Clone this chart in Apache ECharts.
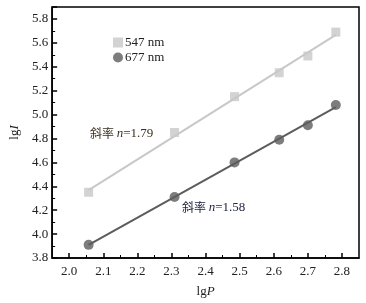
<!DOCTYPE html>
<html>
<head>
<meta charset="utf-8">
<script src="https://cdn.jsdelivr.net/npm/echarts@6/dist/echarts.min.js"></script>
<style>
  html, body { margin: 0; padding: 0; background: #fff; }
  #chart { width: 366px; height: 303px; }
</style>
</head>
<body>
<div id="chart"></div>
<script>
// data
var lgP = [2.057, 2.309, 2.485, 2.616, 2.700, 2.782];
var lgI547 = [4.35, 4.85, 5.15, 5.35, 5.49, 5.69];
var lgI677 = [3.91, 4.31, 4.60, 4.79, 4.91, 5.08];
var seriesNames = ['547 nm', '677 nm'];
var slopeLabels = ['斜率 ', '1.79', '1.58'];
var xMajor = [2.0, 2.1, 2.2, 2.3, 2.4, 2.5, 2.6, 2.7, 2.8];
var xMinor = [2.05, 2.15, 2.25, 2.35, 2.45, 2.55, 2.65, 2.75];

// least squares fit, drawn from first to last x
function fit(xs, ys) {
    var n = xs.length, mx = 0, my = 0;
    for (var i = 0; i < n; i++) { mx += xs[i]; my += ys[i]; }
    mx /= n; my /= n;
    var sxy = 0, sxx = 0;
    for (var j = 0; j < n; j++) {
        sxy += (xs[j] - mx) * (ys[j] - my);
        sxx += (xs[j] - mx) * (xs[j] - mx);
    }
    var k = sxy / sxx, b = my - k * mx;
    return [[xs[0], k * xs[0] + b], [xs[n - 1], k * xs[n - 1] + b]];
}
function pairs(xs, ys) {
    return xs.map(function (x, i) { return [x, ys[i]]; });
}

var serif = 'Liberation Serif';
var txt = '#222';
var fs = 13;
var myChart = echarts.init(document.getElementById('chart'));

var option = {
    animation: false,
    grid: {
        left: 44, right: 7, top: 7, bottom: 39,
        show: true, borderColor: '#000', borderWidth: 1.5
    },
    legend: {
        data: seriesNames,
        orient: 'vertical',
        left: 108, top: 31,
        itemWidth: 10, itemHeight: 10, itemGap: 2,
        textStyle: { fontFamily: serif, fontSize: fs, color: txt, padding: [0, 0, 0, -3] }
    },
    xAxis: [
        {
            type: 'value', min: 1.95, max: 2.85,
            name: '{n|lg}{i|P}', nameLocation: 'middle', nameGap: 27,
            nameTextStyle: {
                rich: {
                    n: { fontFamily: serif, fontSize: fs, color: txt },
                    i: { fontFamily: serif, fontSize: fs, color: txt, fontStyle: 'italic' }
                }
            },
            axisLine: { show: true, onZero: false, lineStyle: { color: '#000', width: 1.5 } },
            axisTick: { show: true, inside: true, length: 5, customValues: xMajor, lineStyle: { color: '#000', width: 1.5 } },
            splitLine: { show: false },
            axisLabel: {
                fontFamily: serif, fontSize: fs, color: txt, margin: 7,
                customValues: xMajor,
                formatter: function (v) { return v.toFixed(1); }
            }
        },
        {
            type: 'value', min: 1.95, max: 2.85, position: 'bottom',
            axisLine: { show: false },
            axisTick: { show: true, inside: true, length: 3, customValues: xMinor, lineStyle: { color: '#000', width: 1 } },
            axisLabel: { show: false },
            splitLine: { show: false }
        }
    ],
    yAxis: {
        type: 'value', min: 3.8, max: 5.9, interval: 0.2,
        name: '{n|lg}{i|I}', nameLocation: 'middle', nameGap: 31,
        nameTextStyle: {
            rich: {
                n: { fontFamily: serif, fontSize: fs, color: txt },
                i: { fontFamily: serif, fontSize: fs, color: txt, fontStyle: 'italic' }
            }
        },
        axisLine: { show: true, onZero: false, lineStyle: { color: '#000', width: 1.5 } },
        axisTick: { show: true, inside: true, length: 5, lineStyle: { color: '#000', width: 1.5 } },
        minorTick: { show: true, splitNumber: 2, length: 3, lineStyle: { color: '#000', width: 1 } },
        splitLine: { show: false },
        axisLabel: {
            fontFamily: serif, fontSize: fs, color: txt, margin: 4,
            showMaxLabel: false,
            formatter: function (v) { return v.toFixed(1); }
        }
    },
    series: [
        {
            name: 'fit547', type: 'line', data: fit(lgP, lgI547),
            symbol: 'none', lineStyle: { color: '#c8c8c8', width: 2 }, z: 1
        },
        {
            name: 'fit677', type: 'line', data: fit(lgP, lgI677),
            symbol: 'none', lineStyle: { color: '#5c5c5c', width: 2 }, z: 1
        },
        {
            name: seriesNames[0], type: 'scatter', data: pairs(lgP, lgI547),
            symbol: 'rect', symbolSize: 9, itemStyle: { color: '#c8c8c8' }, z: 3
        },
        {
            name: seriesNames[1], type: 'scatter', data: pairs(lgP, lgI677),
            symbol: 'circle', symbolSize: 10, itemStyle: { color: '#5c5c5c' }, z: 3
        }
    ],
    graphic: [
        {
            type: 'text', left: 90, top: 127,
            style: {
                text: '{c|' + slopeLabels[0] + '}{i|n}{t|=' + slopeLabels[1] + '}',
                rich: {
                    c: { fontFamily: 'Noto Sans CJK SC', fontSize: 12, fill: '#3a3020' },
                    i: { fontFamily: serif, fontSize: fs, fontStyle: 'italic', fill: '#3a3020' },
                    t: { fontFamily: serif, fontSize: fs, fill: '#3a3020' }
                }
            }
        },
        {
            type: 'text', left: 182, top: 201,
            style: {
                text: '{c|' + slopeLabels[0] + '}{i|n}{t|=' + slopeLabels[2] + '}',
                rich: {
                    c: { fontFamily: 'Noto Sans CJK SC', fontSize: 12, fill: '#202540' },
                    i: { fontFamily: serif, fontSize: fs, fontStyle: 'italic', fill: '#202540' },
                    t: { fontFamily: serif, fontSize: fs, fill: '#202540' }
                }
            }
        }
    ]
};
myChart.setOption(option);
window.addEventListener('resize', function () { myChart.resize(); });
</script>
</body>
</html>
